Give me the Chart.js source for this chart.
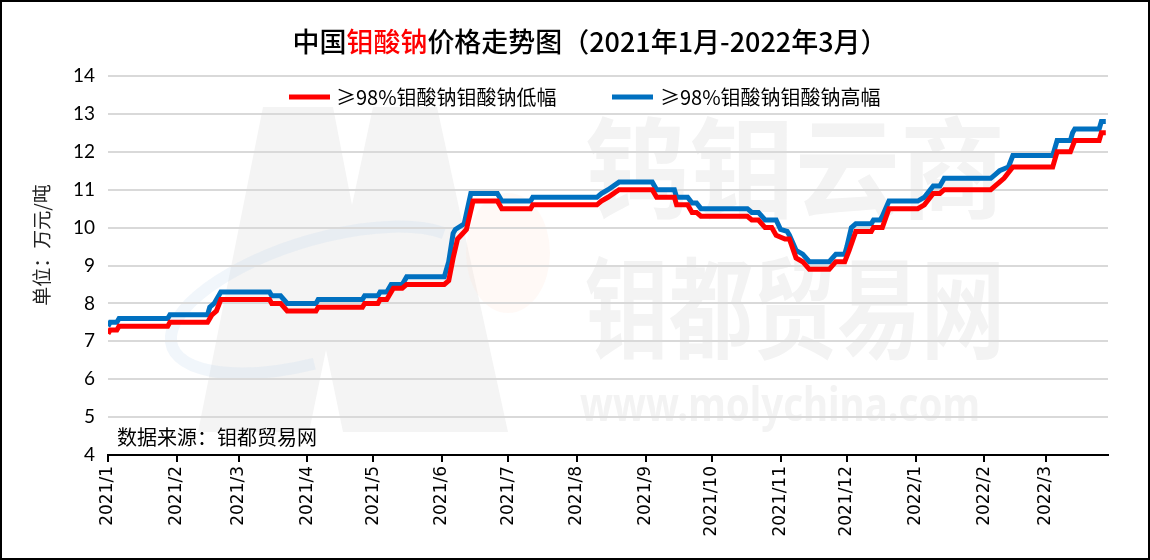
<!DOCTYPE html>
<html>
<head>
<meta charset="utf-8">
<script src="https://cdn.jsdelivr.net/npm/chart.js@4.4.1/dist/chart.umd.min.js"></script>
<style>
  html,body{margin:0;padding:0;background:#fff;}
  #wrap{width:1150px;height:560px;position:relative;}
</style>
</head>
<body>
<div id="wrap"><canvas id="priceChart" width="1150" height="560"></canvas></div>
<script>
// days counted from 2021-01-01, values in 万元/吨 (corner points of the step lines)
const lowDays = [0,1,4,5,27,28,45,47,49,51,73,74,78,81,94,95,115,116,122,123,126,128,129,133,135,152,154,156,158,162,165,176,178,191,192,221,223,226,231,246,248,256,257,262,264,266,268,289,291,294,297,300,302,306,308,311,314,317,326,329,333,335,338,345,346,350,353,366,369,373,376,378,399,401,403,405,409,427,429,435,437,448,449,451];
const lowVals = [7.2,7.3,7.3,7.4,7.4,7.5,7.5,7.7,7.8,8.1,8.1,8.0,8.0,7.8,7.8,7.9,7.9,8.0,8.0,8.1,8.1,8.3,8.4,8.4,8.5,8.5,8.6,9.2,9.7,9.95,10.7,10.7,10.5,10.5,10.6,10.6,10.7,10.8,11.0,11.0,10.8,10.8,10.6,10.6,10.4,10.4,10.3,10.3,10.2,10.2,10.0,10.0,9.8,9.7,9.7,9.2,9.1,8.9,8.9,9.1,9.1,9.4,9.9,9.9,10.0,10.0,10.5,10.5,10.6,10.9,10.9,11.0,11.0,11.1,11.2,11.3,11.6,11.6,12.0,12.0,12.3,12.3,12.5,12.5];

const highDays = [0,1,4,5,27,28,45,46,48,51,73,74,78,81,94,95,115,116,122,123,126,128,133,135,152,154,156,157,161,164,176,178,191,192,221,223,226,231,246,248,256,257,262,264,266,268,289,291,294,297,302,304,307,308,311,314,317,326,329,333,334,336,338,345,346,349,350,353,366,369,373,376,378,399,401,403,407,409,427,429,435,436,437,448,449,451];
const highVals = [7.4,7.5,7.5,7.6,7.6,7.7,7.7,7.9,8.0,8.3,8.3,8.2,8.2,8.0,8.0,8.1,8.1,8.2,8.2,8.3,8.3,8.5,8.5,8.7,8.7,9.1,9.85,9.95,10.1,10.9,10.9,10.7,10.7,10.8,10.8,10.9,11.0,11.2,11.2,11.0,11.0,10.8,10.8,10.65,10.65,10.5,10.5,10.4,10.4,10.2,10.2,9.95,9.9,9.8,9.4,9.3,9.1,9.1,9.3,9.3,9.5,10.0,10.1,10.1,10.2,10.2,10.3,10.7,10.7,10.8,11.1,11.1,11.3,11.3,11.4,11.5,11.6,11.9,11.9,12.3,12.3,12.5,12.6,12.6,12.8,12.8];

const monthLabels = ['2021/1','2021/2','2021/3','2021/4','2021/5','2021/6','2021/7','2021/8','2021/9','2021/10','2021/11','2021/12','2022/1','2022/2','2022/3'];
const seriesNames = ['≥98%钼酸钠钼酸钠低幅','≥98%钼酸钠钼酸钠高幅'];
const seriesColors = ['#ff0000','#0070c0'];

const base = Date.UTC(2021,0,1);
const monthDays = monthLabels.map(l=>{const [y,m]=l.split('/').map(Number);return Math.round((Date.UTC(y,m-1,1)-base)/86400000);});

const cjk = '"Noto Sans CJK SC", sans-serif';

function fitText(ctx, text, x, y, w, font, color){
  ctx.save();
  ctx.font = font;
  const tw = ctx.measureText(text).width;
  ctx.translate(x, y);
  ctx.scale(w/tw, 1);
  ctx.fillStyle = color;
  ctx.textBaseline = 'middle';
  ctx.fillText(text, 0, 0);
  ctx.restore();
}

const watermark = {
  id:'watermark',
  beforeDraw(chart){
    const ctx = chart.ctx;
    ctx.save();
    ctx.fillStyle = '#fff';
    ctx.fillRect(0,0,chart.width,chart.height);
    // big M logo
    ctx.fillStyle = '#f4f4f4';
    ctx.beginPath();
    [[198,432],[263,107],[333,107],[352,205],[373,107],[437,107],[508,432],[343,432],[326,350],[309,432]].forEach((p,i)=>i?ctx.lineTo(p[0],p[1]):ctx.moveTo(p[0],p[1]));
    ctx.closePath(); ctx.fill();
    ctx.fillStyle = 'rgba(255,228,215,0.22)';
    ctx.beginPath(); ctx.ellipse(508,253,42,60,0,0,Math.PI*2); ctx.fill();
    ctx.strokeStyle = 'rgba(190,212,238,0.22)';
    ctx.lineWidth = 12;
    ctx.beginPath(); ctx.ellipse(320,300,155,60,-0.3,0.55*Math.PI,1.85*Math.PI); ctx.stroke();
    fitText(ctx,'钨钼云商',585,168,420,'bold 110px '+cjk,'#f3f3f3');
    ctx.save(); ctx.translate(0,308); ctx.scale(1,1.25);
    fitText(ctx,'钼都贸易网',585,0,420,'bold 88px '+cjk,'#f3f3f3');
    ctx.restore();
    fitText(ctx,'www.molychina.com',580,408,400,'bold 46px "Noto Sans", sans-serif','#f3f3f3');
    ctx.restore();
  }
};

const overlay = {
  id:'overlay',
  afterDraw(chart){
    const ctx = chart.ctx;
    ctx.save();
    // title
    const parts = [['中国','#000'],['钼酸钠','#ff0000'],['价格走势图（2021年1月-2022年3月）','#000']];
    ctx.font = '500 27px '+cjk;
    const total = parts.reduce((s,p)=>s+ctx.measureText(p[0]).width,0);
    const sx = 595/total;
    let x = 590 - 595/2;
    ctx.textBaseline = 'middle';
    parts.forEach(p=>{
      const w = ctx.measureText(p[0]).width;
      ctx.save(); ctx.translate(x,42); ctx.scale(sx,1);
      ctx.fillStyle = p[1]; ctx.fillText(p[0],0,0); ctx.restore();
      x += w*sx;
    });
    // legend
    const legendX = [[289,336],[612,660]];
    ctx.font = '20px '+cjk;
    seriesNames.forEach((n,i)=>{
      ctx.strokeStyle = seriesColors[i]; ctx.lineWidth = 5;
      ctx.beginPath(); ctx.moveTo(legendX[i][0],97); ctx.lineTo(legendX[i][0]+41,97); ctx.stroke();
      ctx.fillStyle = '#000'; ctx.fillText(n,legendX[i][1],97);
    });
    // source note
    ctx.font = '20px '+cjk;
    ctx.fillStyle = '#000';
    ctx.fillText('数据来源：钼都贸易网',117,437);
    // y title
    ctx.save(); ctx.translate(42,245); ctx.rotate(-Math.PI/2);
    ctx.textAlign = 'center'; ctx.font = '19px '+cjk; ctx.fillStyle = '#222';
    ctx.fillText('单位：万元/吨',0,0); ctx.restore();
    // frame
    ctx.strokeStyle = '#000'; ctx.lineWidth = 2;
    ctx.strokeRect(1,1,chart.width-2,chart.height-2);
    ctx.restore();
  }
};

new Chart(document.getElementById('priceChart'), {
  type:'line',
  data:{datasets:[
    {label:seriesNames[0],data:lowDays.map((d,i)=>({x:d,y:lowVals[i]})),borderColor:seriesColors[0],borderWidth:5,pointRadius:0,tension:0},
    {label:seriesNames[1],data:highDays.map((d,i)=>({x:d,y:highVals[i]})),borderColor:seriesColors[1],borderWidth:5,pointRadius:0,tension:0}
  ]},
  options:{
    responsive:false, animation:false,
    layout:{padding:{left:0,top:76,right:42,bottom:0}},
    plugins:{legend:{display:false},tooltip:{enabled:false}},
    scales:{
      x:{type:'linear',min:0,max:452,
        afterBuildTicks:s=>{s.ticks=monthDays.map(v=>({value:v}));},
        afterFit:s=>{s.height=105;},
        ticks:{autoSkip:false,minRotation:90,maxRotation:90,padding:4,color:'#000',
          font:{family:'"DejaVu Sans"',size:17},
          callback:v=>monthLabels[monthDays.indexOf(v)]},
        grid:{drawOnChartArea:false,drawTicks:true,tickLength:7,color:'#000',lineWidth:2},
        border:{display:true,color:'#000',width:2}},
      y:{min:4,max:14,
        afterFit:s=>{s.width=108;},
        ticks:{stepSize:1,padding:13,color:'#000',font:{family:'Lato',size:19}},
        grid:{color:'#d9d9d9',lineWidth:2,drawTicks:false},
        border:{display:false}}
    }
  },
  plugins:[watermark,overlay]
});
</script>
</body>
</html>
